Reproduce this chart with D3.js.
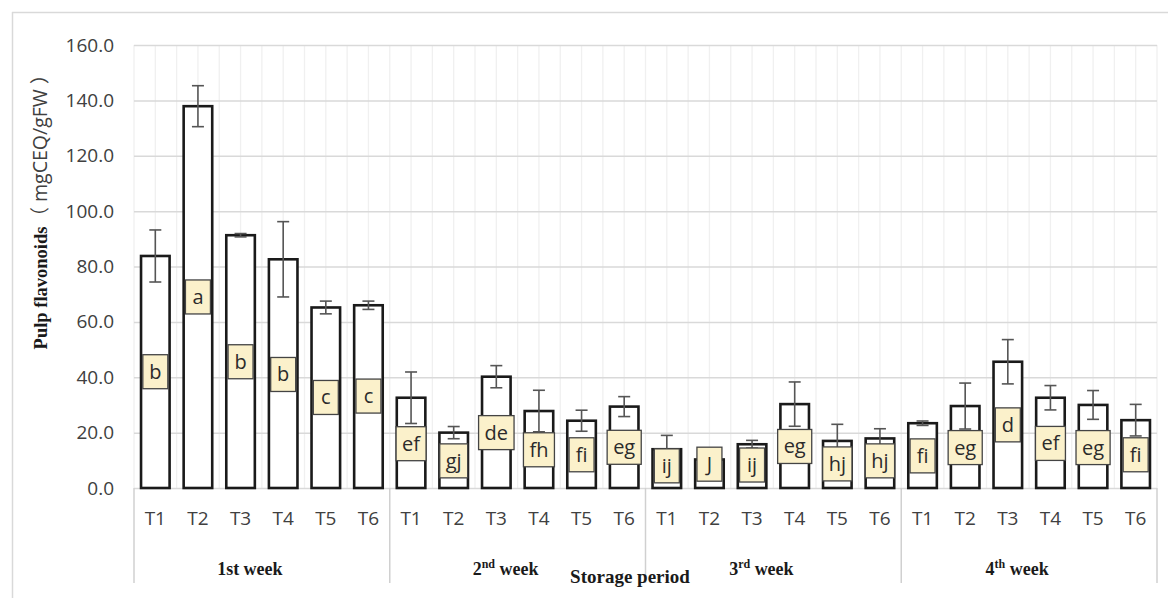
<!DOCTYPE html>
<html>
<head>
<meta charset="utf-8">
<script src="https://cdn.jsdelivr.net/npm/d3@7"></script>
<style>
  body { margin: 0; background: #fff; }
  svg { display: block; }
</style>
</head>
<body>
<svg id="chart" width="1168" height="598"></svg>
<script>
// chart data
var weekLabels = ["1st week", "2nd week", "3rd week", "4th week"];
var weekSup = [false, true, true, true];  // first label is not superscripted
var treatments = ["T1", "T2", "T3", "T4", "T5", "T6"];

var means1 = [83.8, 137.9, 91.3, 82.6, 65.2, 66.0];
var means2 = [32.6, 20.0, 40.2, 27.8, 24.3, 29.4];
var means3 = [14.0, 10.3, 15.8, 30.3, 17.0, 17.9];
var means4 = [23.4, 29.6, 45.6, 32.6, 30.0, 24.5];

var errs1 = [9.4, 7.4, 0.6, 13.6, 2.3, 1.5];
var errs2 = [9.3, 2.2, 4.0, 7.5, 3.8, 3.6];
var errs3 = [5.0, 1.0, 1.4, 8.0, 6.0, 3.5];
var errs4 = [0.8, 8.3, 8.0, 4.4, 5.2, 5.7];

var letters1 = ["b", "a", "b", "b", "c", "c"];
var letters2 = ["ef", "gj", "de", "fh", "fi", "eg"];
var letters3 = ["ij", "J", "ij", "eg", "hj", "hj"];
var letters4 = ["fi", "eg", "d", "ef", "eg", "fi"];

// value where each letter box sits (box centre)
var letterAt1 = [42, 69, 45.6, 41, 32.7, 33.2];
var letterAt2 = [16, 9.8, 20, 13.8, 12, 14.7];
var letterAt3 = [8, 8.6, 8.3, 15, 8.7, 9.8];
var letterAt4 = [11.6, 14.6, 22.8, 16.1, 14.6, 12];

var yTicks = [0, 20, 40, 60, 80, 100, 120, 140, 160];

// build rows
var means = [means1, means2, means3, means4];
var errs = [errs1, errs2, errs3, errs4];
var letters = [letters1, letters2, letters3, letters4];
var letterAt = [letterAt1, letterAt2, letterAt3, letterAt4];
var rows = [];
for (let w = 0; w < weekLabels.length; w++) {
  for (let t = 0; t < treatments.length; t++) {
    rows.push({
      key: w + "-" + treatments[t],
      week: w,
      name: treatments[t],
      value: means[w][t],
      err: errs[w][t],
      letter: letters[w][t],
      letterAt: letterAt[w][t]
    });
  }
}

var plotLeft = 134, plotRight = 1157, plotTop = 45, plotBottom = 488;
var svg = d3.select("#chart");

var x = d3.scaleBand()
  .domain(rows.map(d => d.key))
  .range([plotLeft, plotRight])
  .paddingInner(0)
  .paddingOuter(0);
var xWeek = d3.scaleBand()
  .domain(weekLabels)
  .range([plotLeft, plotRight]);
var y = d3.scaleLinear().domain([0, 160]).range([plotBottom, plotTop]);
var bw = x.bandwidth();
var barW = bw * 0.67;

// outer frame (left and top edges only visible)
svg.append("line").attr("x1", 12).attr("x2", 1168).attr("y1", 12.5).attr("y2", 12.5)
  .attr("stroke", "#d9d9d9").attr("stroke-width", 1.5);
svg.append("line").attr("x1", 12.5).attr("x2", 12.5).attr("y1", 12).attr("y2", 598)
  .attr("stroke", "#d9d9d9").attr("stroke-width", 1.5);

// faint vertical grid, at band edges and centres
var vg = [];
rows.forEach(d => { vg.push(x(d.key)); vg.push(x(d.key) + bw / 2); });
vg.push(plotRight);
svg.append("g").selectAll("line").data(vg).join("line")
  .attr("x1", d => d).attr("x2", d => d)
  .attr("y1", plotTop).attr("y2", plotBottom)
  .attr("stroke", "#f0f0f0").attr("stroke-width", 1.3);

// horizontal grid + y tick labels
var yAxis = d3.axisLeft(y).tickValues(yTicks).tickFormat(d3.format(".1f"))
  .tickSize(-(plotRight - plotLeft)).tickPadding(20);
var yg = svg.append("g").attr("transform", "translate(" + plotLeft + ",0)").call(yAxis);
yg.select(".domain").remove();
yg.selectAll(".tick line").attr("stroke", "#d9d9d9").attr("stroke-width", 1.5);
yg.selectAll(".tick text")
  .attr("font-family", "'Open Sans', sans-serif")
  .attr("font-size", 19)
  .attr("fill", "#404040");

// y axis title
var yt = svg.append("text")
  .attr("transform", "translate(47,207) rotate(-90)")
  .attr("text-anchor", "middle")
  .attr("fill", "#1a1a1a");
yt.append("tspan")
  .attr("font-family", "'Liberation Serif', serif")
  .attr("font-weight", "bold")
  .attr("font-size", 18.5)
  .text("Pulp flavonoids");
yt.append("tspan")
  .attr("font-family", "'Open Sans', 'Noto Sans CJK SC', sans-serif")
  .attr("font-size", 19.5)
  .attr("fill", "#404040")
  .text("（ mgCEQ/gFW ）");

// bars
svg.append("g").selectAll("rect").data(rows).join("rect")
  .attr("x", d => x(d.key) + (bw - barW) / 2)
  .attr("y", d => y(d.value))
  .attr("width", barW)
  .attr("height", d => y(0) - y(d.value))
  .attr("fill", "#fff")
  .attr("stroke", "#1a1a1a")
  .attr("stroke-width", 2.6);

// error bars
var eg = svg.append("g").attr("stroke", "#555").attr("stroke-width", 1.6);
rows.forEach(d => {
  var cx = x(d.key) + bw / 2;
  eg.append("line").attr("x1", cx).attr("x2", cx)
    .attr("y1", y(d.value + d.err)).attr("y2", y(d.value - d.err));
  [d.value + d.err, d.value - d.err].forEach(v => {
    eg.append("line").attr("x1", cx - 6).attr("x2", cx + 6)
      .attr("y1", y(v)).attr("y2", y(v));
  });
});

// letter boxes
var lg = svg.append("g").selectAll("g").data(rows).join("g")
  .attr("transform", d => "translate(" + (x(d.key) + bw / 2) + "," + y(d.letterAt) + ")");
lg.append("rect").attr("class", "box");
lg.append("text")
  .attr("text-anchor", "middle")
  .attr("dy", "0.35em")
  .attr("font-family", "'Open Sans', sans-serif")
  .attr("font-size", 20)
  .attr("fill", "#2b2b2b")
  .text(d => d.letter);
lg.each(function () {
  var g = d3.select(this);
  var tw = g.select("text").node().getComputedTextLength();
  var w = Math.max(25, tw + 12);
  g.select("rect")
    .attr("x", -w / 2).attr("y", -17)
    .attr("width", w).attr("height", 34)
    .attr("fill", "#fbf1cb")
    .attr("stroke", "#444")
    .attr("stroke-width", 1.3);
});

// category labels
svg.append("g").selectAll("text").data(rows).join("text")
  .attr("x", d => x(d.key) + bw / 2)
  .attr("y", 525)
  .attr("text-anchor", "middle")
  .attr("font-family", "'Open Sans', sans-serif")
  .attr("font-size", 19)
  .attr("fill", "#404040")
  .text(d => d.name);

// group separators
var seps = weekLabels.map(w => xWeek(w)).concat([plotRight]);
svg.append("g").selectAll("line").data(seps).join("line")
  .attr("x1", d => d).attr("x2", d => d)
  .attr("y1", plotBottom).attr("y2", 583)
  .attr("stroke", "#d0d0d0").attr("stroke-width", 1.5);

// group labels
weekLabels.forEach((w, i) => {
  var m = w.match(/^(\d)(\w\w) (.*)$/);
  var t = svg.append("text")
    .attr("x", xWeek(w) + xWeek.bandwidth() / 2 - 12)
    .attr("y", 575)
    .attr("text-anchor", "middle")
    .attr("font-family", "'Liberation Serif', serif")
    .attr("font-weight", "bold")
    .attr("font-size", 18)
    .attr("fill", "#1a1a1a");
  if (weekSup[i]) {
    t.append("tspan").text(m[1]);
    t.append("tspan").attr("font-size", 12).attr("dy", -7).text(m[2]);
    t.append("tspan").attr("dy", 7).text(" " + m[3]);
  } else {
    t.text(w);
  }
});

// x axis title
svg.append("text")
  .attr("x", 630).attr("y", 583)
  .attr("text-anchor", "middle")
  .attr("font-family", "'Liberation Serif', serif")
  .attr("font-weight", "bold")
  .attr("font-size", 19)
  .attr("fill", "#1a1a1a")
  .text("Storage period");
</script>
</body>
</html>
